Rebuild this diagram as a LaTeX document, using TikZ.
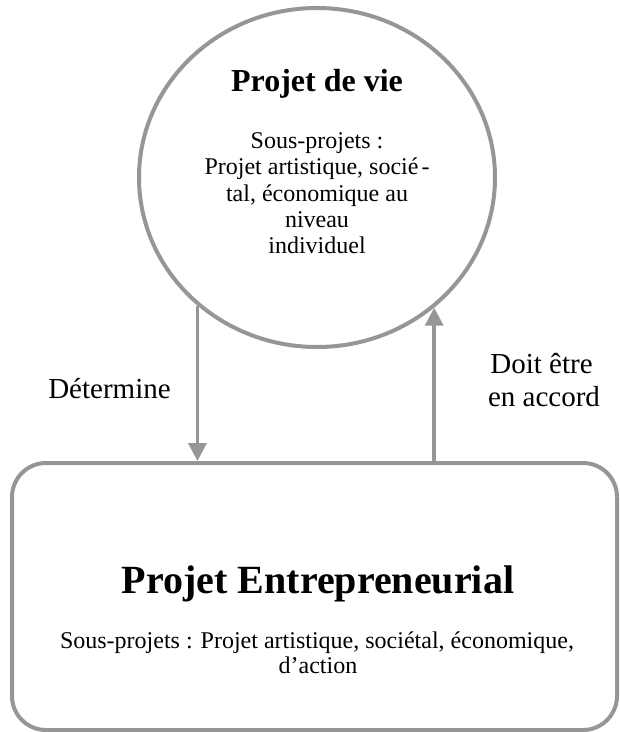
\documentclass[tikz,border=0pt]{standalone}
\usepackage{fontspec}
\setmainfont{Liberation Serif}
\usetikzlibrary{shapes.geometric,arrows.meta}
\definecolor{linegray}{RGB}{150,150,150}
\tikzset{
  shapeline/.style={draw=linegray, line width=4pt, inner sep=0pt},
  arr/.style={draw=linegray, line width=3.5pt, -{Triangle[length=18pt,width=18pt]}},
  titlevie/.style={anchor=base, inner sep=0pt, font=\fontsize{32}{38}\selectfont\bfseries},
  titleent/.style={anchor=base, inner sep=0pt, font=\fontsize{40}{46}\selectfont\bfseries},
  subtxt/.style={anchor=base, inner sep=0pt, font=\fontsize{24}{26}\selectfont},
  lbl/.style={anchor=base, inner sep=0pt, font=\fontsize{29}{33}\selectfont}
}
\begin{document}
\begin{tikzpicture}[x=1pt,y=-1pt]
\useasboundingbox (0,0) rectangle (620,732);
% shapes
\node[ellipse, shapeline, minimum width=356pt, minimum height=339pt] (vie) at (317,177.5) {};
\node[rectangle, rounded corners=34pt, shapeline, minimum width=605pt, minimum height=267pt] (ent) at (314.5,596.5) {};
% texts in circle
\node[titlevie] (t1) at (317,91) {Projet de vie};
\node[subtxt] (s1) at (317,148) {Sous-projets :};
\node[subtxt] (s2) at (317,174) {Projet artistique, soci\'e\hspace{3pt}-};
\node[subtxt] (s3) at (317,201) {tal, \'economique au};
\node[subtxt] (s4) at (317,227) {niveau};
\node[subtxt] (s5) at (317,253) {individuel};
% texts in box
\node[titleent] (t2) at (318,593) {Projet Entrepreneurial};
\node[subtxt] (b1) at (317,648) {Sous-projets : Projet artistique, sociétal, économique,};
\node[subtxt] (b2) at (318,673) {d’action};
% connectors
\draw[arr] (vie.227.2) -- (vie.227.2 |- ent.north);
\draw[arr] (vie.312 |- ent.north) -- (vie.312);
% labels
\node[lbl] (l1) at (109.5,398) {Détermine};
\node[lbl] (l2) at (541.5,373) {Doit être};
\node[lbl] (l3) at (544,406) {en accord};
\end{tikzpicture}
\end{document}
